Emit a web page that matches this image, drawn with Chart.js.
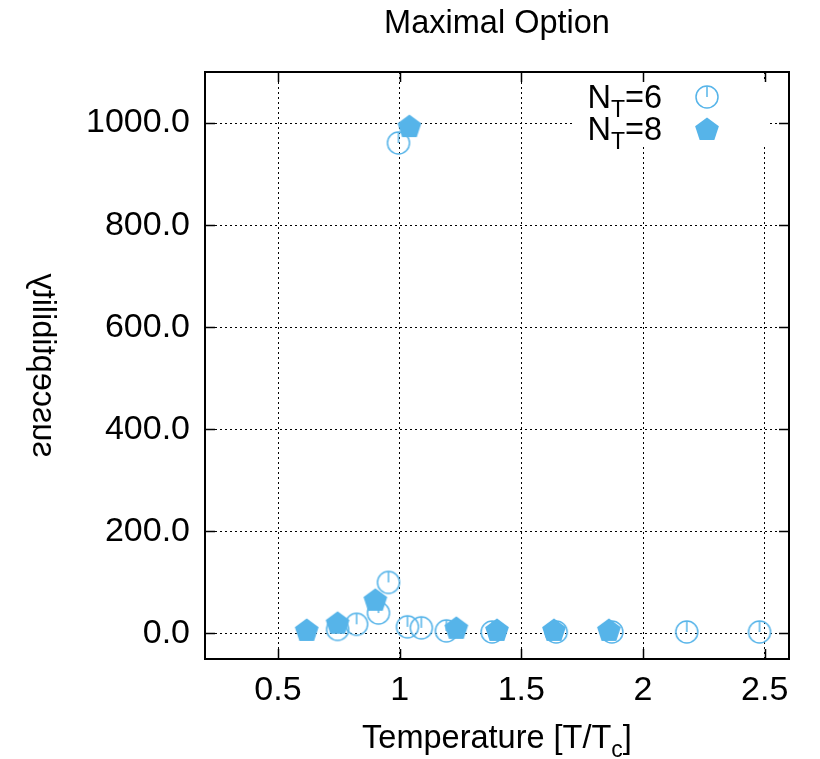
<!DOCTYPE html>
<html>
<head>
<meta charset="utf-8">
<script src="https://cdn.jsdelivr.net/npm/chart.js@4.4.1/dist/chart.umd.min.js"></script>
<style>
  html, body { margin: 0; padding: 0; background: #fff; }
  #wrap { width: 820px; height: 759px; }
</style>
</head>
<body>
<div id="wrap"><canvas id="chart" width="820" height="759"></canvas></div>
<script>
// data
var TEMP_NT6 = [0.745, 0.823, 0.913, 0.954, 0.995, 1.032, 1.089, 1.192, 1.38, 1.643, 1.872, 2.18, 2.479];
var CHI_NT6  = [8, 18, 40, 100, 961, 13, 11, 5, 3, 3, 3, 3, 3];
var TEMP_NT8 = [0.618, 0.745, 0.9, 1.04, 1.233, 1.4, 1.634, 1.86];
var CHI_NT8  = [7, 21, 66, 994, 11, 7, 7, 7];

var X_TICKS = [0.5, 1, 1.5, 2, 2.5];
var Y_TICKS = [0, 200, 400, 600, 800, 1000];

var TITLE = 'Maximal Option';
var BLUE = '#56b4e9';
var FONT = '"Liberation Sans", Arial, sans-serif';
var TICK_SIZE = 34;
var TEXT_SIZE = 32.5;

function toPoints(xs, ys){
    return xs.map(function(x, i){ return { x: x, y: ys[i] }; });
}

// open circle with the little error bar tick inside
function circleMarker(){
    var c = document.createElement('canvas');
    c.width = 26; c.height = 26;
    var g = c.getContext('2d');
    g.strokeStyle = BLUE;
    g.lineWidth = 1.5;
    g.beginPath(); g.arc(13, 13, 11, 0, Math.PI * 2); g.stroke();
    g.beginPath(); g.moveTo(13, 2); g.lineTo(13, 13); g.stroke();
    return c;
}

function pentagonMarker(){
    var c = document.createElement('canvas');
    c.width = 28; c.height = 28;
    var g = c.getContext('2d');
    g.fillStyle = BLUE;
    g.beginPath();
    for (var k = 0; k < 5; k++) {
        var a = -Math.PI / 2 + k * 2 * Math.PI / 5;
        var px = 14 + 12.5 * Math.cos(a), py = 15 + 12.5 * Math.sin(a);
        if (k === 0) g.moveTo(px, py); else g.lineTo(px, py);
    }
    g.closePath(); g.fill();
    return c;
}

var CIRCLE = circleMarker();
var PENTA = pentagonMarker();

// text with subscript parts: [{t:'N'},{t:'T',sub:true}]
function partsWidth(ctx, parts, size){
    var w = 0;
    parts.forEach(function(p){
        ctx.font = (p.sub ? Math.round(size * 0.7) : size) + 'px ' + FONT;
        w += ctx.measureText(p.t).width;
    });
    return w;
}
function drawParts(ctx, parts, x, y, size){
    var cx = x;
    parts.forEach(function(p){
        ctx.font = (p.sub ? Math.round(size * 0.7) : size) + 'px ' + FONT;
        ctx.fillText(p.t, cx, p.sub ? y + size * 0.28 : y);
        cx += ctx.measureText(p.t).width;
    });
}

var gnuplotLook = {
    id: 'gnuplotLook',
    beforeDatasetsDraw: function(chart){
        var ctx = chart.ctx, a = chart.chartArea;
        var xs = chart.scales.x, ys = chart.scales.y;
        ctx.save();
        // legend box hides the grid
        ctx.fillStyle = '#fff';
        ctx.fillRect(a.right - 217, a.top + 9, 196, 66);

        // inward ticks on all four sides
        ctx.strokeStyle = '#000';
        ctx.lineWidth = 1.5;
        ctx.beginPath();
        X_TICKS.forEach(function(v){
            var px = Math.round(xs.getPixelForValue(v)) + 0.5;
            ctx.moveTo(px, a.bottom); ctx.lineTo(px, a.bottom - 10);
            ctx.moveTo(px, a.top); ctx.lineTo(px, a.top + 10);
        });
        Y_TICKS.forEach(function(v){
            var py = Math.round(ys.getPixelForValue(v)) + 0.5;
            ctx.moveTo(a.left, py); ctx.lineTo(a.left + 10, py);
            ctx.moveTo(a.right, py); ctx.lineTo(a.right - 10, py);
        });
        ctx.stroke();

        // frame
        ctx.lineWidth = 2;
        ctx.strokeRect(a.left, a.top, a.right - a.left, a.bottom - a.top);

        // legend
        var size = TEXT_SIZE;
        ctx.fillStyle = '#000';
        ctx.textBaseline = 'alphabetic';
        var rows = [
            { parts: [{t:'N'},{t:'T',sub:true},{t:'=6'}], img: CIRCLE, y: a.top + 36 },
            { parts: [{t:'N'},{t:'T',sub:true},{t:'=8'}], img: PENTA, y: a.top + 68 }
        ];
        rows.forEach(function(r){
            var w = partsWidth(ctx, r.parts, size);
            drawParts(ctx, r.parts, a.right - 127 - w, r.y, size);
            ctx.drawImage(r.img, a.right - 82 - r.img.width / 2, r.y - 11 - r.img.height / 2);
        });

        // title and axis labels
        ctx.textAlign = 'center';
        ctx.font = size + 'px ' + FONT;
        ctx.fillText(TITLE, (a.left + a.right) / 2, 33);

        var xl = [{t:'Temperature [T/T'},{t:'c',sub:true},{t:']'}];
        var wx = partsWidth(ctx, xl, size);
        ctx.textAlign = 'left';
        drawParts(ctx, xl, (a.left + a.right) / 2 - wx / 2, 748, size);

        // y label is mirrored in the original
        ctx.translate(42, (a.top + a.bottom) / 2);
        ctx.rotate(-Math.PI / 2);
        ctx.scale(1, -1);
        ctx.textAlign = 'center';
        ctx.textBaseline = 'middle';
        ctx.font = size + 'px ' + FONT;
        ctx.fillText('susceptibility', 0, 0);
        ctx.restore();
    }
};

var ctx = document.getElementById('chart').getContext('2d');
new Chart(ctx, {
    type: 'scatter',
    data: {
        datasets: [
            { label: 'N_T=8', data: toPoints(TEMP_NT8, CHI_NT8), pointStyle: PENTA, order: 1 },
            { label: 'N_T=6', data: toPoints(TEMP_NT6, CHI_NT6), pointStyle: CIRCLE, order: 2 }
        ]
    },
    options: {
        responsive: false,
        animation: false,
        layout: { padding: { top: 72, right: 31, left: 0, bottom: 0 } },
        plugins: { legend: { display: false }, tooltip: { enabled: false }, title: { display: false } },
        scales: {
            x: {
                type: 'linear', min: 0.2, max: 2.6,
                afterBuildTicks: function(s){ s.ticks = X_TICKS.map(function(v){ return { value: v }; }); },
                afterFit: function(s){ s.height = 100; },
                grid: { color: '#000', lineWidth: 1, drawTicks: false },
                border: { display: false, dash: [2, 3] },
                ticks: { color: '#000', padding: 11, maxRotation: 0, font: { family: FONT, size: TICK_SIZE },
                         callback: function(v){ return String(v); } }
            },
            y: {
                type: 'linear', min: -50, max: 1100,
                afterBuildTicks: function(s){ s.ticks = Y_TICKS.map(function(v){ return { value: v }; }); },
                afterFit: function(s){ s.width = 205; },
                grid: { color: '#000', lineWidth: 1, drawTicks: false },
                border: { display: false, dash: [2, 3] },
                ticks: { color: '#000', padding: 15, font: { family: FONT, size: TICK_SIZE },
                         callback: function(v){ return v.toFixed(1); } }
            }
        }
    },
    plugins: [gnuplotLook]
});
</script>
</body>
</html>
